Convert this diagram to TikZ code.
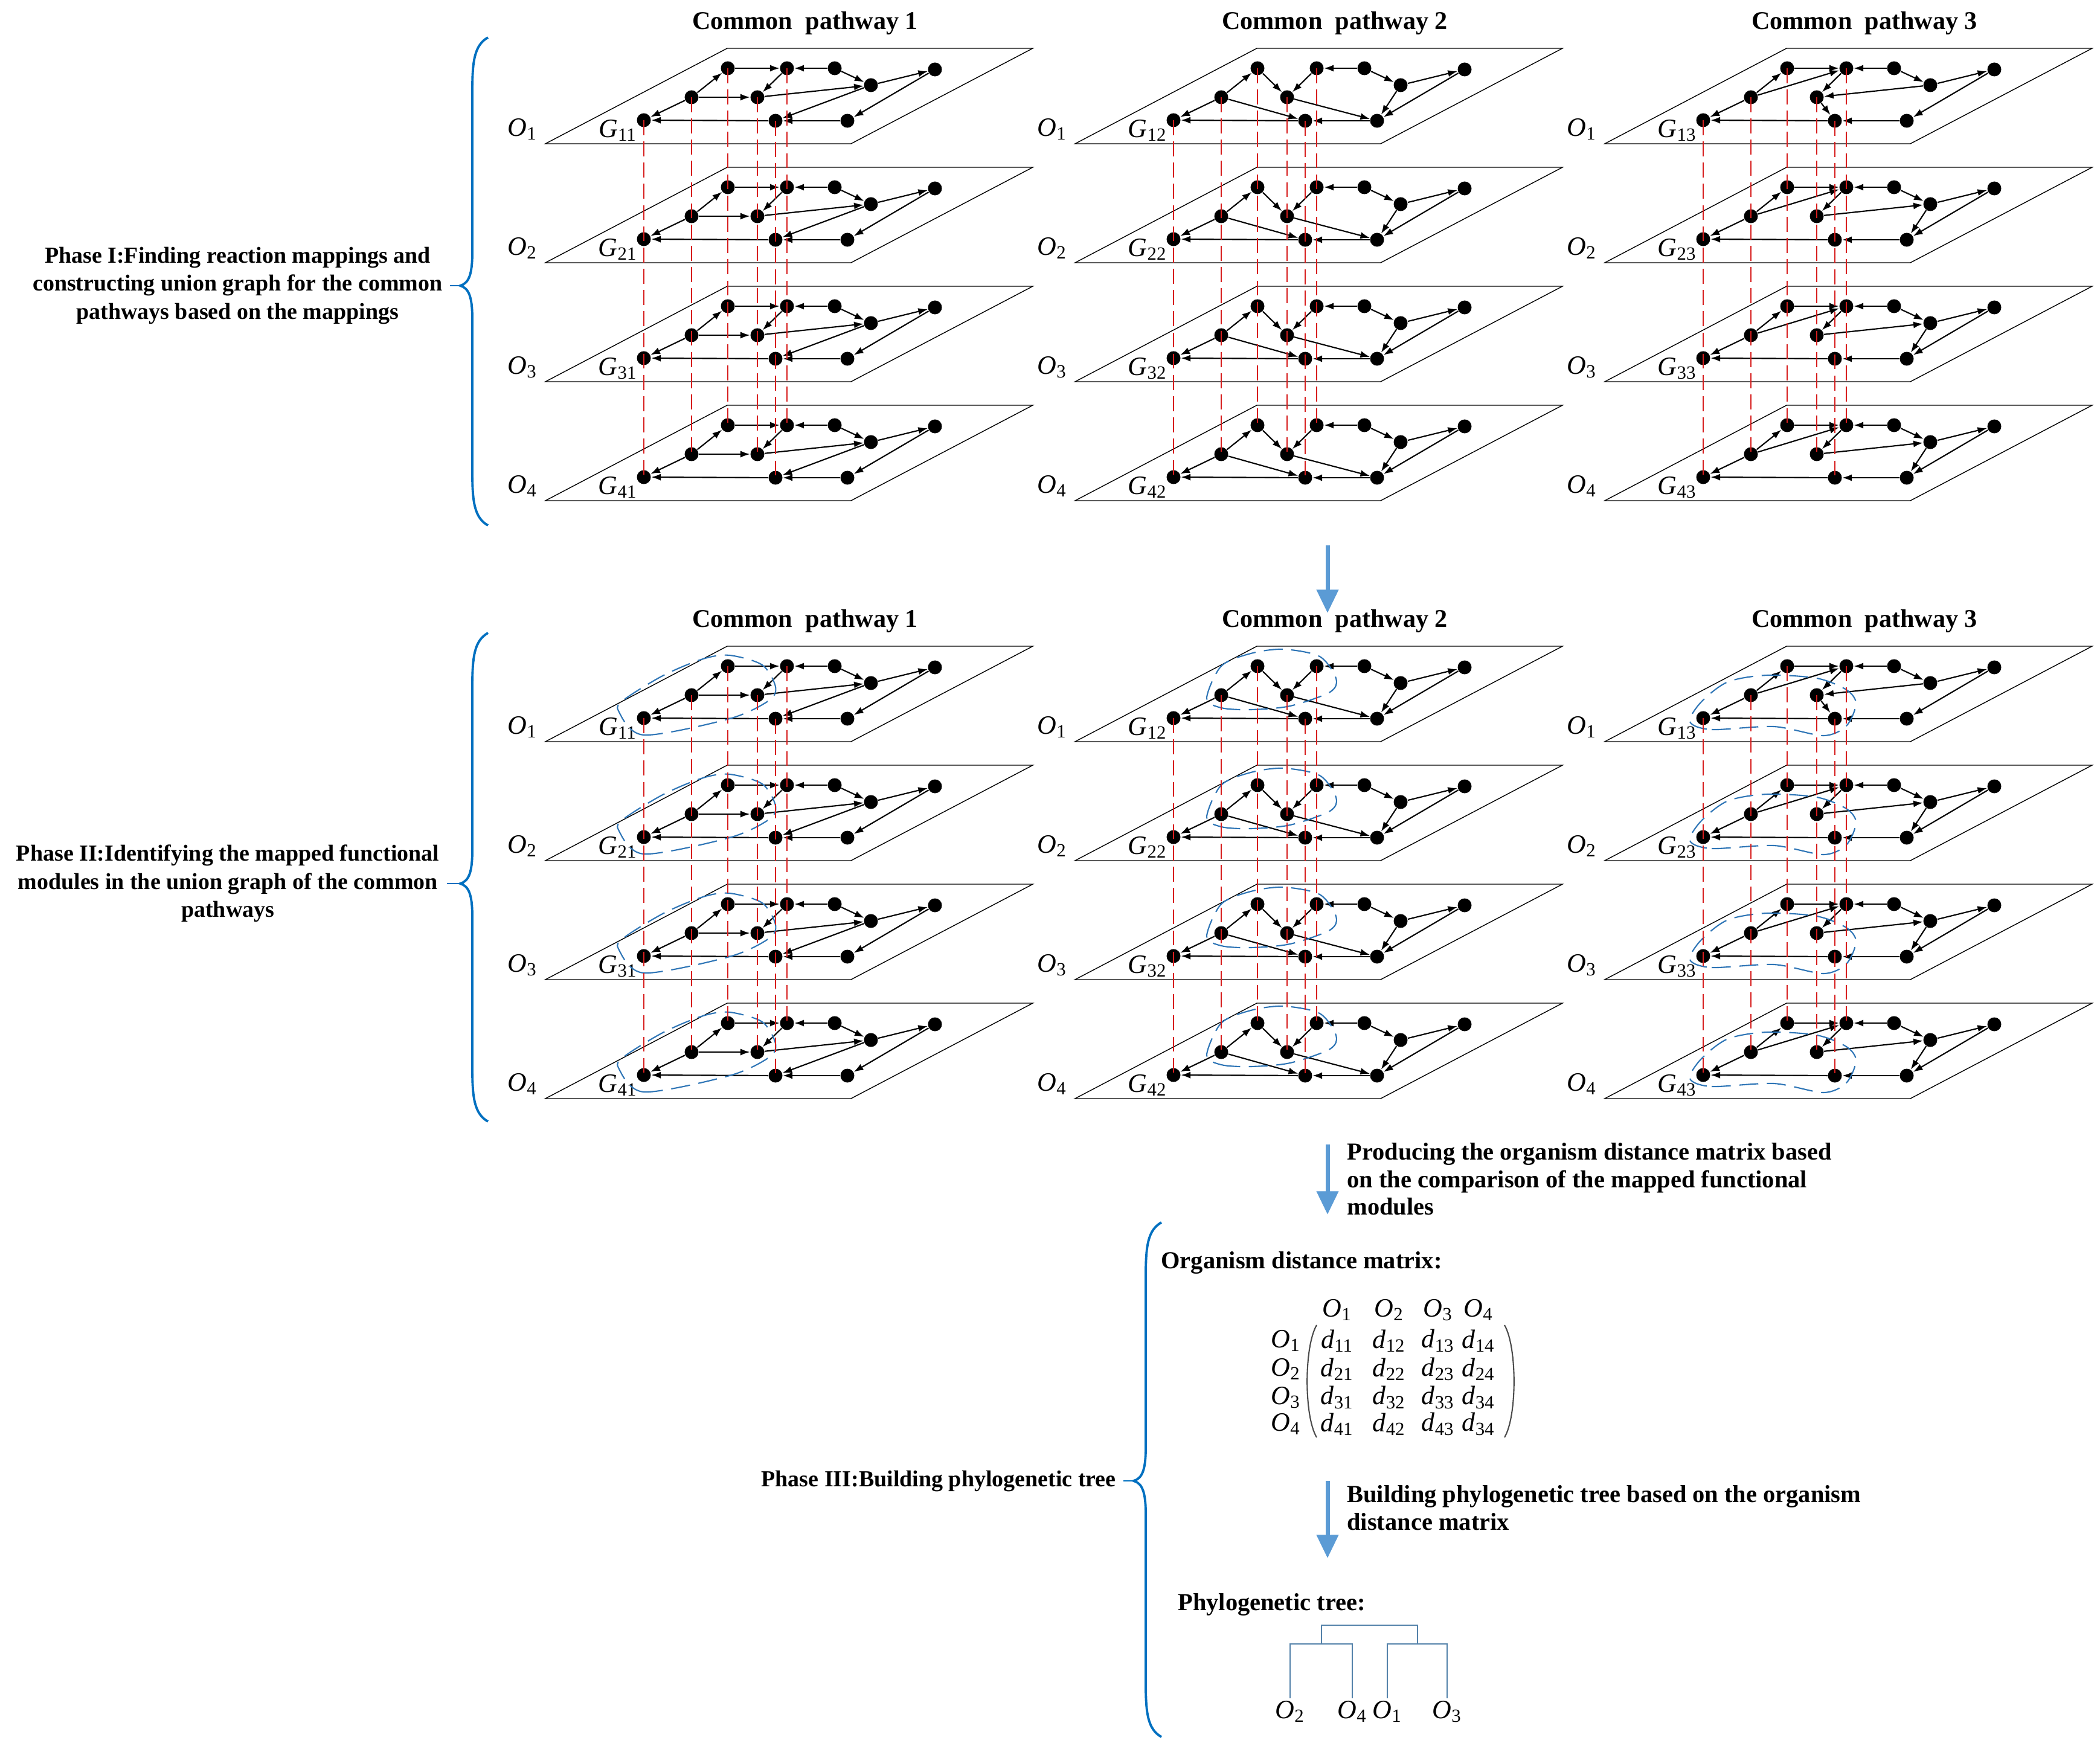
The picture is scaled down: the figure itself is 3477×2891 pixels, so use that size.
\documentclass[tikz,border=0pt]{standalone}
\usepackage{fontspec}
\setmainfont{Liberation Serif}
\usetikzlibrary{arrows.meta,positioning}

\definecolor{braceblue}{RGB}{0,112,192}
\definecolor{arrowblue}{RGB}{91,155,213}
\definecolor{modblue}{RGB}{46,117,182}
\definecolor{mapred}{RGB}{215,30,30}
\definecolor{treeblue}{RGB}{84,130,170}

\newcommand{\orgn}[1]{\textit{O}\textsubscript{#1}}

% one organism plane with its ten reactions
\newcommand{\drawplane}[3]{%
  \begin{scope}[shift={(#2,#3)}]
    \draw[plane] (0,0) -- (506,0) -- (807,-158) -- (301,-158) -- cycle;
    \node[vert] (#1a) at (163,-39) {};
    \node[vert] (#1b) at (242,-77) {};
    \node[vert] (#1c) at (302,-125) {};
    \node[vert] (#1d) at (351,-77) {};
    \node[vert] (#1e) at (400,-125) {};
    \node[vert] (#1f) at (381,-38) {};
    \node[vert] (#1g) at (479,-125) {};
    \node[vert] (#1h) at (539,-97) {};
    \node[vert] (#1i) at (645,-123) {};
    \node[vert] (#1j) at (500,-38) {};
  \end{scope}}

\newcommand{\bracepath}[4]{% x, top, tip, bottom
  \draw[brace] (#1+26,#2) .. controls (#1+3,#2+13) and (#1,#2+40) .. (#1,#2+90)
    -- (#1,#3-55) .. controls (#1,#3-18) and (#1-6,#3-4) .. (#1-20,#3)
    .. controls (#1-6,#3+4) and (#1,#3+18) .. (#1,#3+55)
    -- (#1,#4-90) .. controls (#1,#4-40) and (#1+3,#4-13) .. (#1+26,#4);}

\def\edgesone{b/c,c/e,g/e,g/h,h/i,e/d,b/d,d/h,b/a,f/a,h/f,i/j,j/f}
\def\edgestwo{b/c,c/d,e/d,g/e,g/h,h/i,h/j,i/j,b/a,b/f,d/j,j/f,f/a}
\def\edgesthreetop{b/c,c/e,b/e,g/e,g/h,h/i,h/d,e/d,d/f,b/a,f/a,j/f,i/j}
\def\edgesthree{b/c,c/e,b/e,g/e,g/h,h/i,d/h,e/d,h/j,i/j,b/a,f/a,j/f}

\begin{document}
\begin{tikzpicture}[x=0.01cm,y=-0.01cm,
    vert/.style={circle,fill=black,inner sep=0pt,minimum size=0.23cm},
    edge/.style={-{Latex[length=4.5pt,width=3.2pt]},semithick},
    plane/.style={draw,thin},
    map/.style={mapred,dashed,thin,dash pattern=on 7pt off 3pt},
    module/.style={modblue,semithick,dash pattern=on 9pt off 4pt},
    brace/.style={braceblue,line width=1.1pt},
    flow/.style={arrowblue,line width=2pt,-{Triangle[length=11pt,width=10pt]}},
    tree/.style={treeblue,semithick},
    title/.style={font=\fontsize{12}{14}\selectfont\bfseries},
    phase/.style={font=\fontsize{10.8}{13.2}\selectfont\bfseries,align=center},
    note/.style={font=\fontsize{11.5}{13}\selectfont\bfseries,align=left},
    olab/.style={font=\fontsize{12.5}{14}\selectfont},
    mlab/.style={font=\fontsize{12.5}{14}\selectfont,inner sep=1pt}]
  \useasboundingbox (0,0) rectangle (3477,2891);

  % stacked organism planes, two copies of the three pathways
  \foreach \r/\ry in {1/238,2/1228}{
    \foreach \c/\cx in {1/903,2/1780,3/2657}{
      \pgfmathtruncatemacro{\tx}{\cx+430}
      \node[title] (title\r\c) at (\tx,\ry-200) {Common\ \ pathway \c};
      \foreach \o in {1,2,3,4}{
        \pgfmathtruncatemacro{\oy}{\ry+197*(\o-1)}
        \drawplane{p\r\c\o}{\cx}{\oy}
        \node[olab] (org\r\c\o) at (\cx-38,\oy-24) {\orgn{\o}};
        \node[olab] (gr\r\c\o) at (\cx+120,\oy-22) {\textit{G}\textsubscript{\o\c}};
        \ifnum\c=1 \let\elist\edgesone\fi
        \ifnum\c=2 \let\elist\edgestwo\fi
        \ifnum\c=3 \ifnum\o=1 \let\elist\edgesthreetop\else\let\elist\edgesthree\fi\fi
        \foreach \s/\t in \elist {\draw[edge] (p\r\c\o\s) -- (p\r\c\o\t);}
        \ifnum\r=2
          \begin{scope}[shift={(\cx,\oy)}]
            \ifnum\c=1 \draw[module] plot[smooth cycle] coordinates {(121,-51) (163,-11) (305,-38) (370,-68) (381,-91) (359,-127) (305,-143) (261,-137) (196,-110) (131,-70)};\fi
            \ifnum\c=2 \draw[module] plot[smooth cycle] coordinates {(218,-72) (242,-56) (291,-53) (356,-59) (422,-82) (432,-105) (405,-141) (345,-153) (291,-146) (242,-125)};\fi
            \ifnum\c=3 \draw[module] plot[smooth cycle] coordinates {(141,-33) (177,-20) (280,-25) (362,-10) (400,-26) (416,-63) (400,-86) (351,-105) (269,-110) (204,-99) (160,-66)};\fi
          \end{scope}
        \fi
      }
      \foreach \n in {a,b,c,d,e,f}
        \draw[map] (p\r\c1\n.center) -- (p\r\c4\n.center);
    }
  }

  % phases
  \bracepath{782}{62}{473}{870}
  \bracepath{782}{1048}{1463}{1857}
  \bracepath{1897}{2024}{2452}{2876}
  \coordinate (tip1) at (762,473);
  \coordinate (tip2) at (762,1463);
  \coordinate (tip3) at (1877,2452);
  \node[phase,anchor=east] (phase1) at (745,473) {Phase I:Finding reaction mappings and\\constructing union graph for the common\\pathways based on the mappings};
  \node[phase,anchor=east] (phase2) at (740,1463) {Phase II:Identifying the mapped functional\\modules in the union graph of the common\\pathways};
  \node[phase,anchor=east] (phase3) at (1860,2452) {Phase III:Building phylogenetic tree};
  \draw[brace,line width=0.8pt] (phase1.east) -- (tip1);
  \draw[brace,line width=0.8pt] (phase2.east) -- (tip2);
  \draw[brace,line width=0.8pt] (phase3.east) -- (tip3);

  % flow between the steps
  \coordinate (f1s) at (2198,903);
  \coordinate (f1e) at (2198,1015);
  \coordinate (f2s) at (2198,1895);
  \coordinate (f2e) at (2198,2011);
  \coordinate (f3s) at (2198,2452);
  \coordinate (f3e) at (2198,2580);
  \draw[flow] (f1s) -- (f1e);
  \draw[flow] (f2s) -- (f2e);
  \draw[flow] (f3s) -- (f3e);
  \node[note,anchor=north west] (step2) at (2218,1880) {Producing the organism distance matrix based\\on the comparison of the mapped functional\\modules};
  \node[note,anchor=north west] (step3) at (2218,2447) {Building phylogenetic tree based on the organism\\distance matrix};

  % distance matrix
  \node[note,anchor=west] (mtitle) at (1910,2091) {Organism distance matrix:};
  \foreach \j/\mx in {1/2214,2/2300,3/2381,4/2448}
    \node[mlab] (head\j) at (\mx,2169) {\orgn{\j}};
  \foreach \i/\my/\da/\db/\dc/\dd in {1/2220/11/12/13/14,2/2267/21/22/23/24,3/2314/31/32/33/34,4/2358/41/42/43/34}{
    \node[mlab] (rowl\i) at (2129,\my) {\orgn{\i}};
    \node[mlab] (m\i1) at (2214,\my) {\textit{d}\textsubscript{\da}};
    \node[mlab] (m\i2) at (2300,\my) {\textit{d}\textsubscript{\db}};
    \node[mlab] (m\i3) at (2381,\my) {\textit{d}\textsubscript{\dc}};
    \node[mlab] (m\i4) at (2448,\my) {\textit{d}\textsubscript{\dd}};
  }
  \draw[gray!60!black,semithick] (2180,2194) .. controls (2159,2230) and (2159,2345) .. (2180,2380);
  \draw[gray!60!black,semithick] (2491,2194) .. controls (2512,2230) and (2512,2345) .. (2491,2380);

  % phylogenetic tree
  \node[note,anchor=west] (ttitle) at (1938,2657) {Phylogenetic tree:};
  \node[mlab,anchor=north] (leaf2) at (2136,2812) {\orgn{2}};
  \node[mlab,anchor=north] (leaf4) at (2239,2812) {\orgn{4}};
  \node[mlab,anchor=north] (leaf1) at (2297,2812) {\orgn{1}};
  \node[mlab,anchor=north] (leaf3) at (2396,2812) {\orgn{3}};
  \coordinate (jl) at (2188,2722);
  \coordinate (jr) at (2347,2722);
  \coordinate (root) at (2267,2691);
  \draw[tree] (leaf2.north) |- (jl) -| (leaf4.north);
  \draw[tree] (leaf1.north) |- (jr) -| (leaf3.north);
  \draw[tree] (jl) |- (root) -| (jr);
\end{tikzpicture}
\end{document}
